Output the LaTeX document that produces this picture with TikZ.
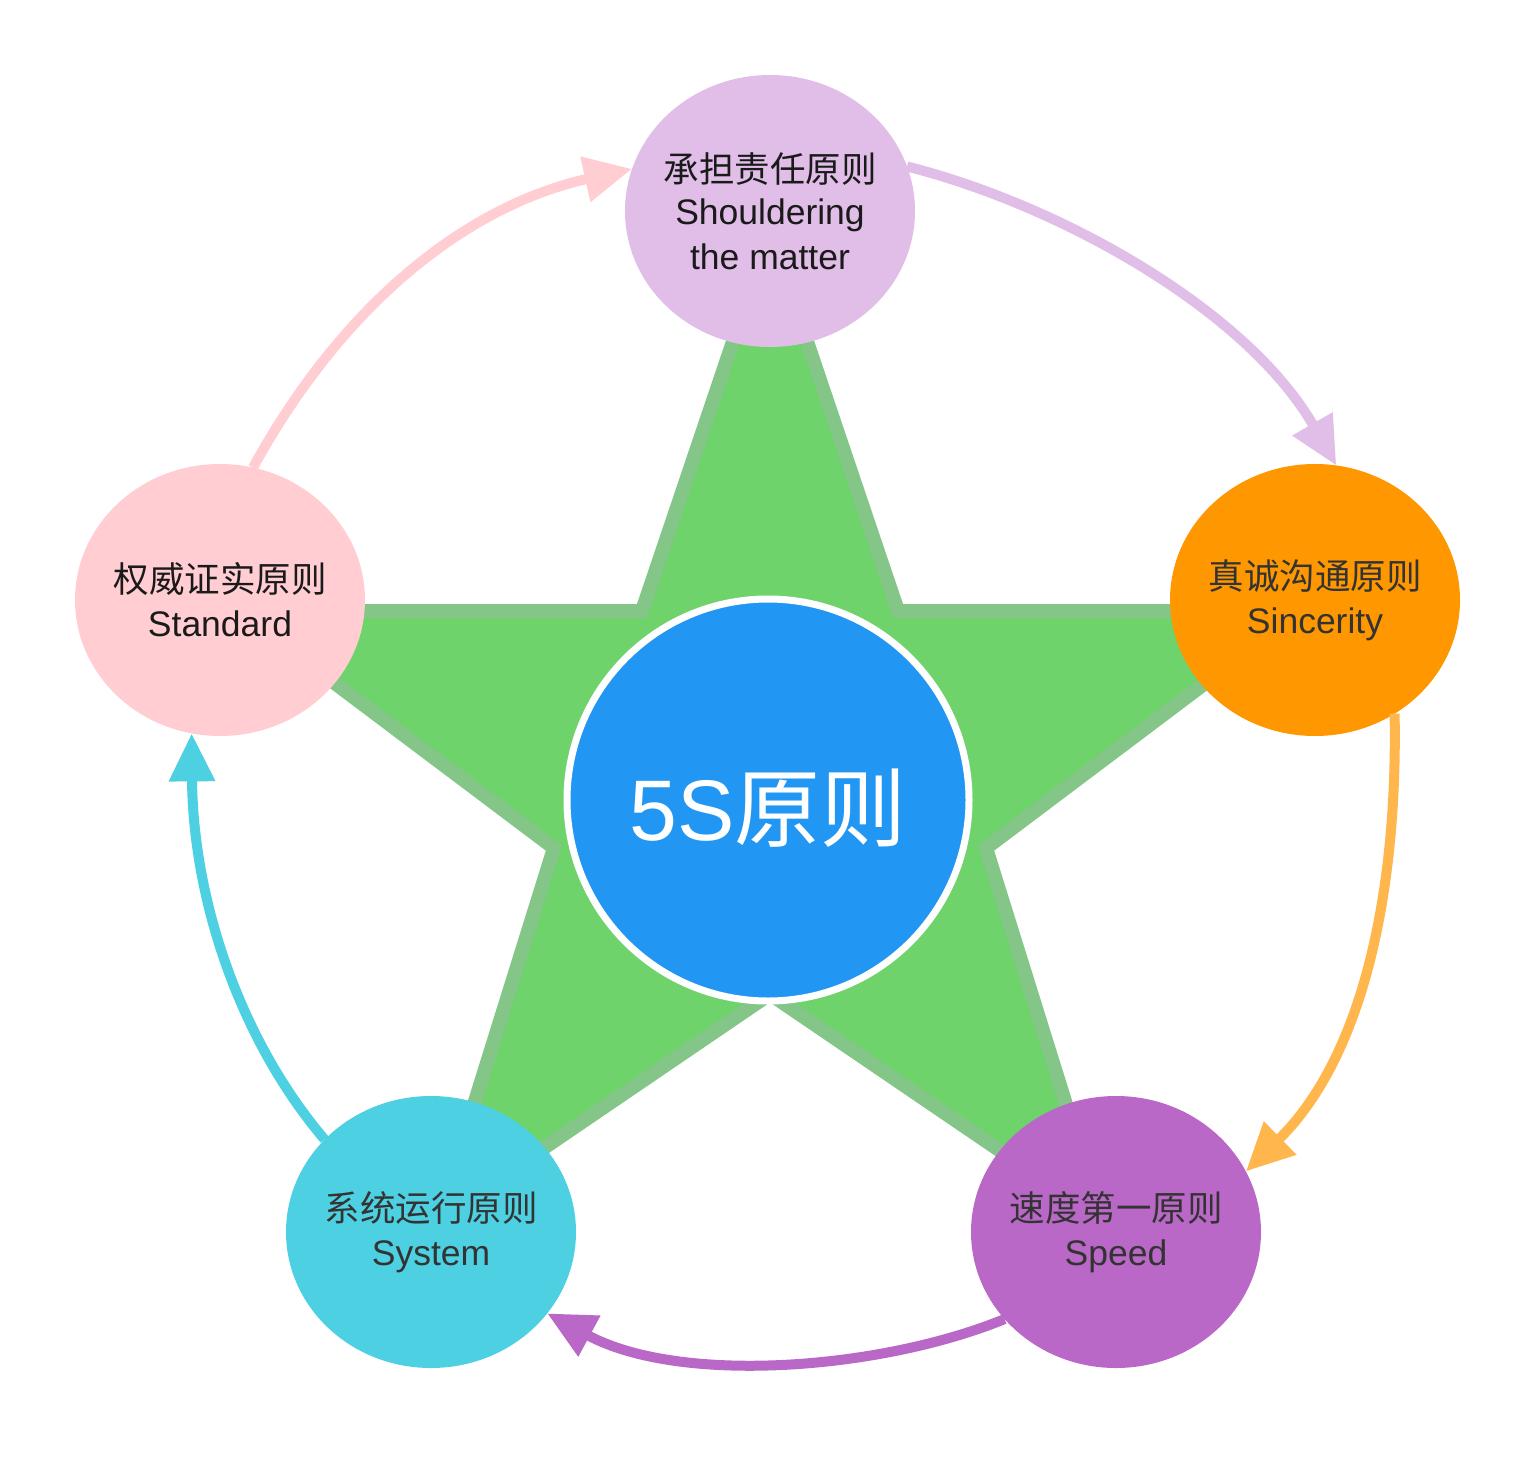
\documentclass[tikz,border=0pt]{standalone}
\usepackage{fontspec}
\setmainfont{Liberation Sans}
\newfontfamily\cjk{Noto Sans CJK SC}
\usetikzlibrary{shapes.geometric,arrows.meta}
\definecolor{starfill}{HTML}{6ED36A}
\definecolor{starline}{HTML}{83C687}
\definecolor{centerblue}{HTML}{2196F3}
\definecolor{toppurple}{HTML}{E1BEE7}
\definecolor{leftpink}{HTML}{FFCDD2}
\definecolor{rightorange}{HTML}{FF9800}
\definecolor{lightorange}{HTML}{FFB74D}
\definecolor{brpurple}{HTML}{BA68C8}
\definecolor{blcyan}{HTML}{4DD0E1}
\definecolor{txtdark}{HTML}{333333}
\definecolor{txtblack}{HTML}{1A1A1A}
\begin{document}
\begin{tikzpicture}[x=1pt,y=-1pt,
  bubble/.style={ellipse, minimum width=290pt, minimum height=272pt,
    inner xsep=-25pt, inner ysep=0pt, outer sep=0pt, align=center,
    font=\fontsize{35.5pt}{45pt}\selectfont, text=txtdark},
  flow/.style={line width=10pt, -{Triangle[length=48pt,width=44pt]}},
]
\useasboundingbox (0,0) rectangle (1536,1461);
\fill[white] (0,0) rectangle (1536,1461);

% star
\draw[fill=starfill, draw=starline, line width=14pt, line join=miter]
  (770,232) -- (898,611) -- (1301,611) -- (986,848) -- (1102,1220)
  -- (770,994) -- (438,1220) -- (554,848) -- (239,611) -- (642,611) -- cycle;

% centre
\node[circle, fill=centerblue, draw=white, line width=7pt, minimum size=402pt,
  inner sep=0pt, outer sep=0pt] (c) at (768,800) {};
\node[text=white, font=\fontsize{86pt}{90pt}\selectfont, inner sep=0pt] (ctext) at (768,808) {5S{\cjk 原则}};

% outer circles
\node[bubble, fill=toppurple, text=txtblack] (t) at (770,211)
  {\raisebox{-3pt}{\cjk 承担责任原则}\\Shouldering\\the matter};
\node[bubble, fill=leftpink, text=txtblack] (l) at (220,600)
  {\raisebox{-3pt}{\cjk 权威证实原则}\\\raisebox{-2pt}{Standard}};
\node[bubble, fill=rightorange] (r) at (1315,600)
  {\raisebox{-3pt}{\cjk 真诚沟通原则}\\\raisebox{-2pt}{Sincerity}};
\node[bubble, fill=blcyan] (bl) at (431,1232)
  {\raisebox{-3pt}{\cjk 系统运行原则}\\\raisebox{-2pt}{System}};
\node[bubble, fill=brpurple] (br) at (1116,1232)
  {\raisebox{-3pt}{\cjk 速度第一原则}\\\raisebox{-2pt}{Speed}};

% arrows
\draw[flow, toppurple] (t.18) .. controls (1060,205) and (1247,310) .. (r.81);
\draw[flow, lightorange] (r.-55) .. controls (1398,900) and (1360,1060) .. (br.25);
\draw[flow, brpurple] (br.218) .. controls (880,1370) and (680,1385) .. (bl.-35);
\draw[flow, blcyan] (bl.139) .. controls (240,1040) and (193,900) .. (l.258);
\draw[flow, leftpink] (l.76) .. controls (345,300) and (470,205) .. (t.163);
\end{tikzpicture}
\end{document}
